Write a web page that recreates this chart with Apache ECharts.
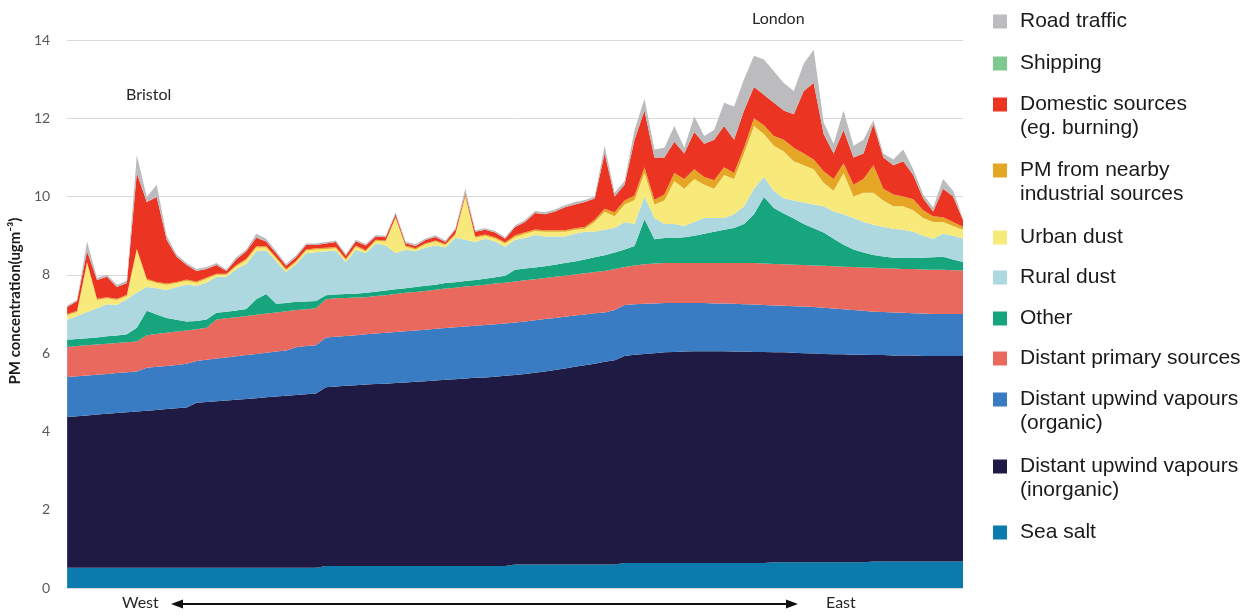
<!DOCTYPE html>
<html><head><meta charset="utf-8">
<script src="https://cdn.jsdelivr.net/npm/echarts@6/dist/echarts.min.js"></script>
<style>html,body{margin:0;padding:0;background:#fff}#c{width:1253px;height:615px}</style>
</head><body><div id="c"></div>
<script>
// position along the West -> East transect (index)
const positions = Array.from({length: 91}, (_, i) => String(i + 1));
const yTicks = [0, 2, 4, 6, 8, 10, 12, 14];

const seaSalt = [0.52,0.52,0.52,0.52,0.52,0.52,0.52,0.52,0.52,0.52,0.52,0.52,0.52,0.52,0.52,0.52,0.52,0.52,0.52,0.52,0.52,0.52,0.52,0.52,0.52,0.52,
 0.56,0.56,0.56,0.56,0.56,0.56,0.56,0.56,0.56,0.56,0.56,0.56,0.56,0.56,0.56,0.56,0.56,0.56,0.56,
 0.60,0.60,0.60,0.60,0.60,0.60,0.60,0.60,0.60,0.60,0.60,
 0.64,0.64,0.64,0.64,0.64,0.64,0.64,0.64,0.64,0.64,0.64,0.64,0.64,0.64,0.64,
 0.66,0.66,0.66,0.66,0.66,0.66,0.66,0.66,0.66,0.66,
 0.68,0.68,0.68,0.68,0.68,0.68,0.68,0.68,0.68,0.68];
const inorganic = [3.85,3.87,3.89,3.91,3.93,3.95,3.97,3.99,4.01,4.03,4.05,4.07,4.09,4.21,4.23,4.25,4.27,4.29,4.31,4.33,4.35,4.37,4.39,4.41,4.43,4.45,
 4.57,4.59,4.61,4.62,4.64,4.65,4.66,4.68,4.69,4.71,4.72,4.74,4.76,4.77,4.79,4.81,4.82,4.84,4.86,
 4.84,4.87,4.90,4.93,4.97,5.01,5.05,5.09,5.13,5.18,5.22,
 5.29,5.32,5.34,5.36,5.38,5.39,5.40,5.41,5.41,5.41,5.41,5.40,5.40,5.39,5.39,
 5.36,5.36,5.35,5.34,5.33,5.32,5.31,5.31,5.30,5.30,
 5.27,5.27,5.26,5.26,5.26,5.25,5.25,5.25,5.25,5.25];
const organic = [1.02,1.02,1.02,1.02,1.02,1.02,1.02,1.02,1.10,1.10,1.10,1.11,1.12,1.07,1.08,1.09,1.10,1.11,1.12,1.13,1.14,1.15,1.16,1.22,1.23,1.23,
 1.27,1.27,1.27,1.28,1.28,1.29,1.30,1.30,1.31,1.31,1.32,1.32,1.32,1.33,1.33,1.33,1.34,1.34,1.34,
 1.34,1.34,1.34,1.34,1.33,1.32,1.31,1.30,1.29,1.26,1.28,
 1.30,1.29,1.28,1.27,1.26,1.25,1.24,1.23,1.23,1.22,1.22,1.22,1.21,1.21,1.20,
 1.20,1.19,1.19,1.19,1.19,1.18,1.17,1.15,1.14,1.12,
 1.11,1.10,1.10,1.09,1.08,1.08,1.07,1.07,1.07,1.07];
const primary = [0.77,0.77,0.77,0.77,0.77,0.77,0.77,0.77,0.83,0.84,0.85,0.85,0.85,0.81,0.82,1.00,1.00,1.00,1.00,1.00,1.00,1.00,1.00,0.95,0.94,0.95,
 0.98,0.98,0.97,0.96,0.95,0.96,0.96,0.97,0.98,0.98,0.99,1.00,1.01,1.01,1.02,1.02,1.03,1.04,1.04,
 1.05,1.05,1.05,1.05,1.05,1.05,1.05,1.05,1.05,1.06,1.05,
 0.97,0.99,1.01,1.02,1.02,1.02,1.02,1.02,1.02,1.03,1.03,1.04,1.05,1.06,1.06,
 1.06,1.06,1.06,1.06,1.06,1.07,1.08,1.09,1.10,1.11,
 1.12,1.12,1.12,1.12,1.13,1.13,1.13,1.13,1.12,1.12];
const other = [0.18,0.18,0.18,0.18,0.19,0.19,0.20,0.35,0.62,0.50,0.38,0.30,0.23,0.21,0.21,0.17,0.17,0.17,0.18,0.40,0.50,0.22,0.21,0.21,0.20,0.18,
 0.10,0.10,0.10,0.10,0.11,0.11,0.12,0.12,0.12,0.13,0.13,0.13,0.14,0.14,0.14,0.15,0.15,0.16,0.18,
 0.30,0.30,0.30,0.30,0.31,0.32,0.33,0.35,0.38,0.40,0.42,
 0.45,0.50,1.15,0.62,0.64,0.64,0.66,0.70,0.75,0.80,0.85,0.90,1.00,1.25,1.70,
 1.43,1.30,1.18,1.05,0.95,0.85,0.70,0.56,0.45,0.38,
 0.33,0.30,0.28,0.28,0.28,0.30,0.32,0.33,0.27,0.21];
const ruralDust = [0.51,0.59,0.67,0.75,0.82,0.78,0.90,0.90,0.61,0.67,0.71,0.84,0.94,0.90,0.94,0.92,0.89,1.06,1.15,1.22,1.11,1.09,0.79,0.97,1.23,1.25,
 1.12,1.12,0.82,1.12,1.01,1.23,1.15,0.93,0.98,0.91,0.98,1.00,0.91,1.14,1.06,0.97,1.02,0.91,0.74,
 0.77,0.78,0.83,0.76,0.72,0.68,0.71,0.71,0.65,0.65,0.63,
 0.70,0.56,0.58,0.54,0.36,0.36,0.29,0.35,0.40,0.35,0.30,0.35,0.45,0.65,0.51,
 0.44,0.38,0.46,0.55,0.61,0.67,0.70,0.78,0.80,0.78,
 0.77,0.75,0.74,0.72,0.67,0.56,0.47,0.59,0.61,0.59];
const urbanDust = [0.12,0.10,1.25,0.21,0.15,0.13,0.08,1.09,0.18,0.13,0.14,0.10,0.10,0.08,0.10,0.05,0.05,0.07,0.10,0.10,0.08,0.07,0.05,0.05,0.07,0.07,
 0.06,0.06,0.05,0.08,0.05,0.07,0.10,0.89,0.08,0.05,0.08,0.10,0.06,0.07,1.10,0.11,0.08,0.08,0.08,
 0.07,0.11,0.10,0.12,0.12,0.12,0.10,0.08,0.25,0.46,0.30,
 0.45,0.61,0.60,0.35,0.60,1.10,0.95,1.10,0.85,0.75,1.10,0.90,1.35,1.60,1.10,
 1.15,1.20,1.00,0.95,0.90,0.60,0.53,1.05,0.55,0.75,
 0.82,0.68,0.57,0.60,0.55,0.45,0.43,0.30,0.25,0.23];
const industrial = [0.03,0.03,0.03,0.03,0.03,0.03,0.03,0.03,0.03,0.03,0.03,0.03,0.03,0.03,0.03,0.03,0.03,0.03,0.03,0.03,0.03,0.03,0.03,0.03,0.03,0.03,
 0.03,0.03,0.03,0.03,0.03,0.03,0.03,0.03,0.03,0.03,0.03,0.03,0.03,0.03,0.03,0.03,0.03,0.03,0.03,
 0.04,0.04,0.04,0.04,0.04,0.04,0.04,0.04,0.06,0.08,0.10,
 0.10,0.12,0.15,0.12,0.15,0.20,0.25,0.25,0.20,0.22,0.20,0.15,0.15,0.20,0.22,
 0.25,0.30,0.35,0.30,0.25,0.30,0.30,0.25,0.30,0.35,
 0.70,0.30,0.30,0.25,0.28,0.20,0.15,0.12,0.10,0.08];
const shipping = [0,0,0,0,0,0,0,0,0,0,0,0,0,0,0,0,0,0,0,0,0,0,0,0,0,0,
 0,0,0,0,0,0,0,0,0,0,0,0,0,0,0,0,0,0,0,
 0,0,0,0,0,0,0,0,0,0,0,
 0,0,0,0,0,0,0,0,0,0,0,0,0,0,0,
 0,0,0,0,0,0,0,0,0,0,
 0,0,0,0,0,0,0,0,0,0];
const domestic = [0.18,0.25,0.27,0.48,0.52,0.30,0.30,1.93,1.96,2.17,1.12,0.64,0.37,0.27,0.22,0.22,0.07,0.15,0.19,0.22,0.12,0.10,0.08,0.09,0.11,0.08,
 0.11,0.13,0.08,0.11,0.12,0.08,0.08,0.07,0.06,0.06,0.08,0.09,0.05,0.10,0.05,0.12,0.12,0.12,0.09,
 0.21,0.26,0.42,0.41,0.48,0.59,0.61,0.64,0.54,1.41,0.40,
 0.40,1.42,1.45,1.08,0.95,0.80,0.65,0.95,0.85,1.03,1.05,0.85,0.95,0.80,0.78,
 0.85,0.75,0.85,1.60,1.95,0.95,0.65,0.85,0.70,0.65,
 1.05,0.80,0.75,0.90,0.62,0.30,0.12,0.73,0.65,0.17];
const roadTraffic = [0.04,0.03,0.25,0.05,0.05,0.06,0.06,0.46,0.13,0.31,0.10,0.06,0.05,0.05,0.05,0.05,0.04,0.05,0.05,0.10,0.07,0.05,0.05,0.05,0.04,0.04,
 0.04,0.04,0.04,0.04,0.04,0.04,0.04,0.05,0.04,0.04,0.04,0.04,0.04,0.04,0.12,0.04,0.04,0.04,0.04,
 0.04,0.05,0.05,0.05,0.05,0.05,0.06,0.05,0.05,0.20,0.10,
 0.10,0.25,0.30,0.20,0.25,0.40,0.15,0.40,0.20,0.25,0.60,0.85,0.80,0.80,0.90,
 0.80,0.70,0.60,0.70,0.85,0.30,0.25,0.50,0.30,0.35,
 0.10,0.10,0.15,0.30,0.15,0.10,0.10,0.25,0.15,0.05];

// stacking order: bottom -> top
const layers = [
  {name: 'Sea salt', data: seaSalt, color: '#0b7bad'},
  {name: 'Distant upwind vapours (inorganic)', data: inorganic, color: '#1e1a43'},
  {name: 'Distant upwind vapours (organic)', data: organic, color: '#3a7cc3'},
  {name: 'Distant primary sources', data: primary, color: '#e9695f'},
  {name: 'Other', data: other, color: '#17a57d'},
  {name: 'Rural dust', data: ruralDust, color: '#add8e0'},
  {name: 'Urban dust', data: urbanDust, color: '#f7ea7b'},
  {name: 'PM from nearby industrial sources', data: industrial, color: '#e4a624'},
  {name: 'Shipping', data: shipping, color: '#7ec98f'},
  {name: 'Domestic sources (eg. burning)', data: domestic, color: '#eb3522'},
  {name: 'Road traffic', data: roadTraffic, color: '#bcbcbf'}
];

// legend (top -> bottom): name, first line, second line, centre y of first line
const legendRows = [
  ['Road traffic', 'Road traffic', '', 21],
  ['Shipping', 'Shipping', '', 63],
  ['Domestic sources (eg. burning)', 'Domestic sources', '(eg. burning)', 104],
  ['PM from nearby industrial sources', 'PM from nearby', 'industrial sources', 170],
  ['Urban dust', 'Urban dust', '', 237],
  ['Rural dust', 'Rural dust', '', 277],
  ['Other', 'Other', '', 318],
  ['Distant primary sources', 'Distant primary sources', '', 358],
  ['Distant upwind vapours (organic)', 'Distant upwind vapours', '(organic)', 399],
  ['Distant upwind vapours (inorganic)', 'Distant upwind vapours', '(inorganic)', 466],
  ['Sea salt', 'Sea salt', '', 532]
];

const legendFont = {fontFamily: 'Liberation Sans, Arial, sans-serif', fontSize: 21, color: '#1a1a1a'};

const legends = legendRows.map(r => ({
  data: [r[0]], left: 993, top: r[3] - 10, padding: 0, orient: 'vertical',
  icon: 'rect', itemWidth: 14, itemHeight: 14, selectedMode: false,
  formatter: () => r[1],
  textStyle: Object.assign({lineHeight: 20, padding: [0, 0, 0, 8]}, legendFont)
}));

const graphics = [];
legendRows.forEach(r => {
  if (r[2]) graphics.push({type: 'text', left: 1020, top: r[3] + 25 - 11,
    style: Object.assign({text: r[2]}, {font: '21px "Liberation Sans", Arial, sans-serif', fill: '#1a1a1a'})});
});
const annFont = '16px Lato, "Open Sans", sans-serif';
graphics.push(
  {type: 'text', left: 126, top: 87, style: {text: 'Bristol', font: annFont, fill: '#262626'}},
  {type: 'text', left: 752, top: 11, style: {text: 'London', font: annFont, fill: '#262626'}},
  {type: 'text', left: 122, top: 595, style: {text: 'West', font: annFont, fill: '#262626'}},
  {type: 'text', left: 826, top: 595, style: {text: 'East', font: annFont, fill: '#262626'}},
  {type: 'line', shape: {x1: 180, y1: 604, x2: 789, y2: 604}, style: {stroke: '#111', lineWidth: 2}},
  {type: 'polygon', shape: {points: [[171, 604], [183, 599.5], [183, 608.5]]}, style: {fill: '#111'}},
  {type: 'polygon', shape: {points: [[798, 604], [786, 599.5], [786, 608.5]]}, style: {fill: '#111'}}
);

const chart = echarts.init(document.getElementById('c'), null, {renderer: 'canvas'});
chart.setOption({
  animation: false,
  backgroundColor: '#fff',
  grid: {left: 63, right: 290, top: 40, bottom: 27},
  legend: legends,
  xAxis: {
    type: 'category', data: positions, boundaryGap: false,
    axisLine: {show: false}, axisTick: {show: false}, axisLabel: {show: false}, splitLine: {show: false}
  },
  yAxis: {
    type: 'value', min: yTicks[0], max: yTicks[yTicks.length - 1], interval: 2,
    name: 'PM concentration(ugm⁻³)', nameLocation: 'middle', nameGap: 40,
    nameTextStyle: {fontFamily: 'Lato, "Open Sans", sans-serif', fontWeight: 'bold', fontSize: 15, color: '#1a1a1a', padding: [0, 0, 0, 26]},
    axisLine: {show: false}, axisTick: {show: false},
    axisLabel: {margin: 17, color: '#595959', fontSize: 14, fontFamily: 'Lato, "Open Sans", sans-serif'},
    splitLine: {lineStyle: {color: '#d9d9d9', width: 1}}
  },
  series: layers.map(l => ({
    name: l.name, type: 'line', stack: 'total', data: l.data,
    symbol: 'none', showSymbol: false, smooth: false,
    color: l.color,
    lineStyle: {width: 0, color: l.color},
    areaStyle: {color: l.color, opacity: 1},
    emphasis: {disabled: true}
  })),
  graphic: graphics
});
</script>
</body></html>
